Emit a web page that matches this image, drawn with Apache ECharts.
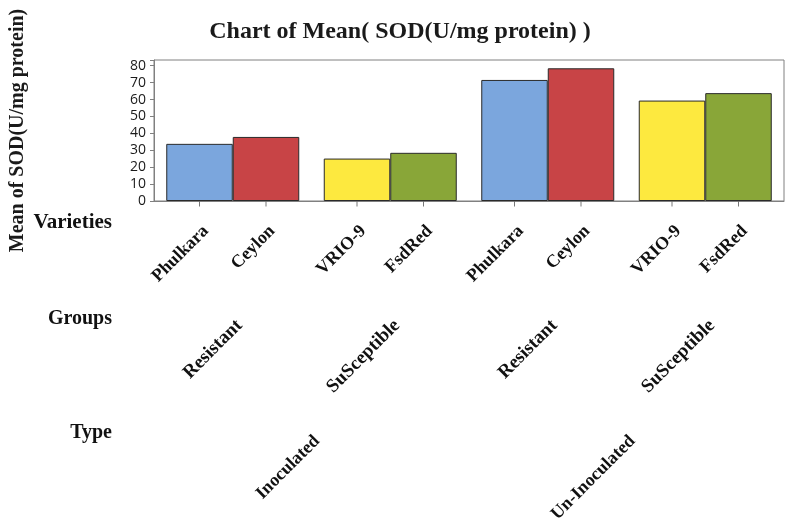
<!DOCTYPE html>
<html>
<head>
<meta charset="utf-8">
<script src="https://cdn.jsdelivr.net/npm/echarts@6/dist/echarts.min.js"></script>
<style>
html, body { margin: 0; padding: 0; background: #fff; }
#chart { width: 800px; height: 529px; }
</style>
</head>
<body>
<div id="chart"></div>
<script>
var varieties = ["Phulkara", "Ceylon", "VRIO-9", "FsdRed", "Phulkara", "Ceylon", "VRIO-9", "FsdRed"]
var groups = ["Resistant", "SuSceptible", "Resistant", "SuSceptible"]
var types = ["Inoculated", "Un-Inoculated"]
var sod = [33.8, 37.9, 25.1, 28.5, 71.6, 78.5, 59.4, 63.8]

var leftColors = ["#7ba6dd", "#fde93f"]
var rightColors = ["#c84446", "#89a638"]
var serif = "Liberation Serif"
var barW = 66.5

var chart = echarts.init(document.getElementById("chart"))

function pairData(offset, colors) {
    return groups.map(function (g, i) {
        return { value: sod[2 * i + offset], itemStyle: { color: colors[i % 2] } }
    })
}

function varietyLabel(offset) {
    return {
        show: true,
        position: "bottom",
        distance: 21,
        rotate: 45,
        align: "right",
        verticalAlign: "top",
        fontFamily: serif,
        fontWeight: "bold",
        fontSize: 18,
        color: "#111",
        formatter: function (p) { return varieties[2 * p.dataIndex + offset] }
    }
}

function tickSeries(dx) {
    return {
        type: "scatter",
        silent: true,
        clip: false,
        symbol: "rect",
        symbolSize: [1, 5],
        symbolOffset: [dx, 3],
        itemStyle: { color: "#555" },
        data: groups.map(function (g, i) { return [i, 0] }),
        z: 1
    }
}

var option = {
    animation: false,
    title: {
        text: "Chart of Mean( SOD(U/mg protein) )",
        left: "center",
        top: 15,
        textStyle: { fontFamily: serif, fontWeight: "bold", fontSize: 24, color: "#1a1a1a" }
    },
    graphic: [
        { type: "text", right: 688, top: 212, style: { text: "Varieties", font: "bold 21px " + serif, fill: "#111" } },
        { type: "text", right: 688, top: 309, style: { text: "Groups", font: "bold 20px " + serif, fill: "#111" } },
        { type: "text", right: 688, top: 423, style: { text: "Type", font: "bold 20px " + serif, fill: "#111" } }
    ],
    grid: [
        { left: 153, right: 16, top: 60, bottom: 328, show: true, borderColor: "#808080", borderWidth: 1 },
        { left: 153, right: 16, top: 60, bottom: 328 }
    ],
    xAxis: [
        {
            type: "category",
            gridIndex: 0,
            data: groups,
            axisLine: { lineStyle: { color: "#808080" } },
            axisTick: { show: false },
            axisLabel: {
                rotate: 45,
                margin: 115,
                verticalAlign: "top",
                fontFamily: serif,
                fontWeight: "bold",
                fontSize: 19,
                color: "#111"
            }
        },
        {
            type: "category",
            gridIndex: 1,
            data: types,
            axisLine: { show: false },
            axisTick: { show: false },
            axisLabel: {
                rotate: 45,
                margin: 231,
                verticalAlign: "top",
                fontFamily: serif,
                fontWeight: "bold",
                fontSize: 18,
                color: "#111"
            }
        }
    ],
    yAxis: [
        {
            type: "value",
            gridIndex: 0,
            min: 0,
            max: 83.4,
            interval: 10,
            name: "Mean of SOD(U/mg protein)",
            nameLocation: "middle",
            nameGap: 126,
            nameTextStyle: { fontFamily: serif, fontWeight: "bold", fontSize: 20, color: "#1a1a1a" },
            splitLine: { show: false },
            axisLine: { show: true, lineStyle: { color: "#808080" } },
            axisTick: { show: true, length: 4, lineStyle: { color: "#808080" } },
            axisLabel: {
                margin: 8,
                fontFamily: "Open Sans",
                fontSize: 14,
                color: "#1a1a1a",
                formatter: function (v) { return v % 10 === 0 ? v : "" }
            }
        },
        { type: "value", gridIndex: 1, show: false }
    ],
    series: [
        {
            type: "bar",
            xAxisIndex: 0,
            yAxisIndex: 0,
            barWidth: barW,
            barGap: "0%",
            itemStyle: { borderColor: "#2a2a2a", borderWidth: 1 },
            label: varietyLabel(0),
            data: pairData(0, leftColors)
        },
        {
            type: "bar",
            xAxisIndex: 0,
            yAxisIndex: 0,
            barWidth: barW,
            barGap: "0%",
            itemStyle: { borderColor: "#2a2a2a", borderWidth: 1 },
            label: varietyLabel(1),
            data: pairData(1, rightColors)
        },
        tickSeries(-barW / 2),
        tickSeries(barW / 2)
    ]
}

chart.setOption(option)
</script>
</body>
</html>
